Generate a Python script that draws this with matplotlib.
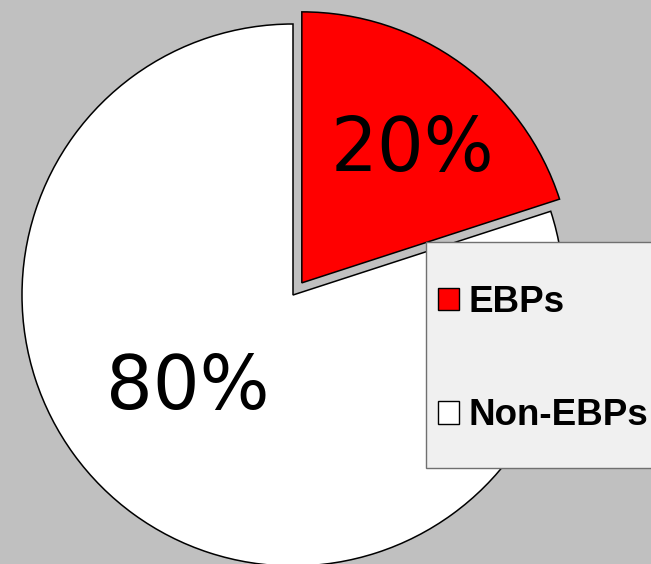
import matplotlib
matplotlib.use("Agg")
import matplotlib.pyplot as plt
import matplotlib.patches as mpatches

labels = ["EBPs", "Non-EBPs"]
shares = [20, 80]
pct_labels = ["20%", "80%"]
colors = ["#ff0000", "#ffffff"]

W, H = 651, 564
fig = plt.figure(figsize=(W / 100, H / 100), dpi=100)
fig.patch.set_facecolor("#c0c0c0")
ax = fig.add_axes([0, 0, 1, 1])

# pie in pixel units, red slice pulled out
wedges, _ = ax.pie(shares, colors=colors, startangle=90, counterclock=False,
                   center=(293, H - 295), radius=271, explode=[15, 0],
                   wedgeprops=dict(edgecolor="black", linewidth=1.1))
ax.set_xlim(0, W)
ax.set_ylim(0, H)
ax.set_aspect("equal")
ax.axis("off")

# percentage labels
ax.text(412, H - 150, pct_labels[0], fontsize=53, ha="center", va="center",
        family="DejaVu Sans")
ax.text(188, H - 388, pct_labels[1], fontsize=53, ha="center", va="center",
        family="DejaVu Sans")

# legend box (runs off the right edge)
box = mpatches.Rectangle((426, H - 468), 260, 226, facecolor="#f0f0f0",
                         edgecolor="#707070", linewidth=1.0, zorder=3)
ax.add_patch(box)
handles = [mpatches.Patch(facecolor=c, edgecolor="black", linewidth=1.0) for c in colors]
leg = ax.legend(handles, labels, loc="upper left",
                bbox_to_anchor=(438 / W, 1 - 285 / H), frameon=False,
                prop=dict(family="Liberation Sans", weight="bold", size=26.5),
                handlelength=0.57, handleheight=0.57, handletextpad=0.25,
                labelspacing=2.13, borderpad=0, borderaxespad=0)
leg.set_zorder(4)

fig.savefig("out.png", dpi=100, facecolor=fig.get_facecolor())
